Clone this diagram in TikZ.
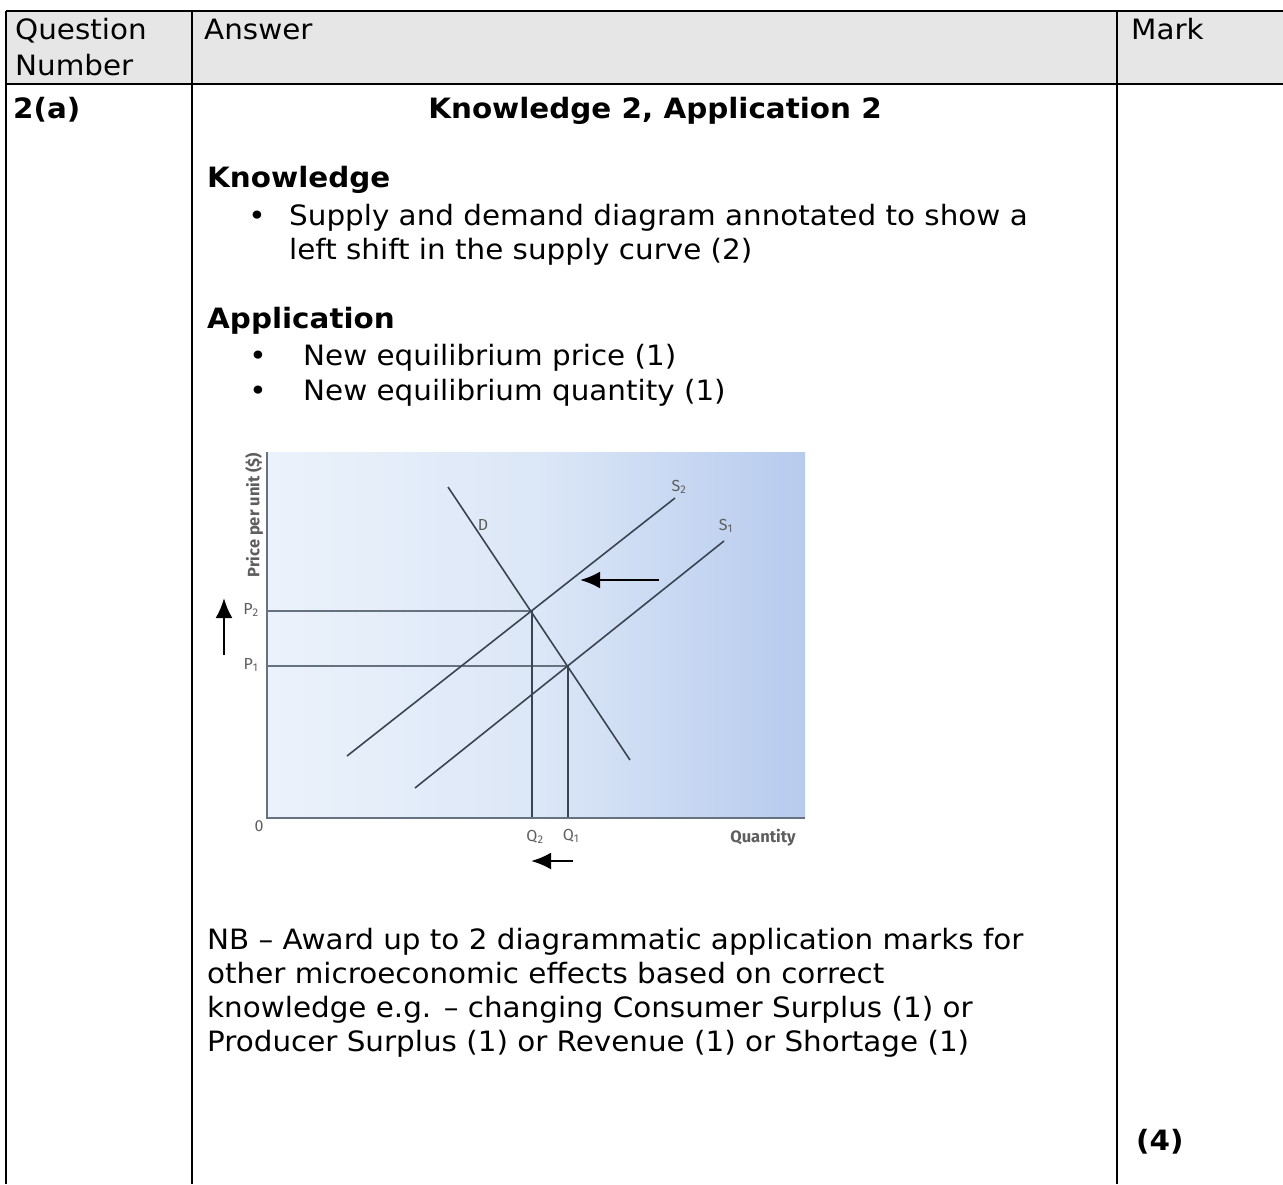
\documentclass[tikz,border=0pt]{standalone}
\usepackage{fontspec}
\setmainfont{DejaVu Sans}[FakeStretch=1.05]
\newfontfamily\chartfont{Fira Sans}
\usetikzlibrary{arrows.meta}
\definecolor{hdrgray}{HTML}{E6E6E6}
\definecolor{axisgray}{HTML}{667280}
\definecolor{curvegray}{HTML}{3A4552}
\definecolor{labelgray}{HTML}{5E5E5E}
\definecolor{panelL}{HTML}{EBF2FB}
\definecolor{panelM}{HTML}{DCE7F7}
\definecolor{panelR}{HTML}{B7CBEE}
\tikzset{
  body/.style={anchor=base west, inner sep=0pt, font=\fontsize{28}{34}\selectfont},
  bodyb/.style={anchor=base west, inner sep=0pt, font=\fontsize{28}{34}\selectfont\bfseries},
  bul/.style={anchor=base, inner sep=0pt, font=\fontsize{28}{34}\selectfont},
  rule/.style={line width=2.2pt, black},
  axis/.style={line width=2.6pt, axisgray},
  guide/.style={line width=2.6pt, axisgray},
  curve/.style={line width=1.6pt, curvegray},
  qline/.style={line width=1.8pt, curvegray},
  shiftarrow/.style={line width=2.6pt, black, -{Latex[length=20pt,width=17pt]}},
  lbl/.style={inner sep=0pt, text=labelgray, font=\chartfont\fontsize{16}{18}\selectfont},
  lblb/.style={inner sep=0pt, text=labelgray, font=\chartfont\fontsize{16.5}{18}\selectfont\bfseries},
}
\begin{document}
\begin{tikzpicture}[x=1pt,y=-1pt]
\useasboundingbox (0,0) rectangle (1283,1184);
\fill[white] (0,0) rectangle (1283,1184);
% table
\fill[hdrgray] (6,11) rectangle (1283,84);
\coordinate (TL) at (6,11);
\coordinate (TR) at (1283,11);
\coordinate (HL) at (6,84);
\coordinate (HR) at (1283,84);
\coordinate (BL) at (6,1184);
\coordinate (C1t) at (192,11);
\coordinate (C1b) at (192,1184);
\coordinate (C2t) at (1117,11);
\coordinate (C2b) at (1117,1184);
\draw[rule] (TL) -- (TR);
\draw[rule] (HL) -- (HR);
\draw[rule] (TL) -- (BL);
\draw[rule] (C1t) -- (C1b);
\draw[rule] (C2t) -- (C2b);
% header text
\node[body] (hq1) at (15,39) {Question};
\node[body] (hq2) at (15,75) {Number};
\node[body] (ha) at (204,39) {Answer};
\node[body] (hm) at (1131,39) {Mark};
% row text
\node[bodyb] (qn) at (13,118) {2(a)};
\node[bodyb, anchor=base] (title) at (655,118) {Knowledge 2, Application 2};
\node[bodyb] (kh) at (207,187) {Knowledge};
\node[bul] (kb) at (257,225) {•};
\node[body] (k1) at (289,225) {Supply and demand diagram annotated to show a};
\node[body] (k2) at (289,259) {left shift in the supply curve (2)};
\node[bodyb] (ah) at (207,328) {Application};
\node[bul] (ab1) at (258,365) {•};
\node[body] (a1) at (303,365) {New equilibrium price (1)};
\node[bul] (ab2) at (258,400) {•};
\node[body] (a2) at (303,400) {New equilibrium quantity (1)};
\node[body] (nb1) at (207,949) {NB – Award up to 2 diagrammatic application marks for};
\node[body] (nb2) at (207,983) {other microeconomic effects based on correct};
\node[body] (nb3) at (207,1017) {knowledge e.g. – changing Consumer Surplus (1) or};
\node[body] (nb4) at (207,1051) {Producer Surplus (1) or Revenue (1) or Shortage (1)};
\node[bodyb] (mk) at (1136,1150) {(4)};
% diagram
\shade[left color=panelL, right color=panelR, middle color=panelM] (267,452) rectangle (805,818);
\coordinate (O) at (267,818);
\coordinate (Ytop) at (267,452);
\coordinate (Xend) at (805,818);
\coordinate (E2) at (532,611);
\coordinate (E1) at (568,666);
\coordinate (P2) at (267,611);
\coordinate (P1) at (267,666);
\coordinate (Q2) at (532,818);
\coordinate (Q1) at (568,818);
\coordinate (Dtop) at (448,487);
\coordinate (Dbot) at (630,760);
\coordinate (S2top) at (675,498);
\coordinate (S2bot) at (347,756);
\coordinate (S1top) at (724,541);
\coordinate (S1bot) at (415,788);
\draw[guide] (P2) -- (E2);
\draw[guide] (P1) -- (E1);
\draw[qline] (E2) -- (Q2);
\draw[qline] (E1) -- (Q1);
\draw[curve] (Dtop) -- (Dbot);
\draw[curve] (S2bot) -- (S2top);
\draw[curve] (S1bot) -- (S1top);
\draw[axis] (Ytop) -- (O) -- (Xend);
% shift arrows
\coordinate (sa1) at (659,580);
\coordinate (sa2) at (580,580);
\draw[shiftarrow] (sa1) -- (sa2);
\coordinate (pa1) at (224,655);
\coordinate (pa2) at (224,598);
\draw[shiftarrow] (pa1) -- (pa2);
\coordinate (qa1) at (573,861);
\coordinate (qa2) at (531,861);
\draw[shiftarrow] (qa1) -- (qa2);
% labels
\node[lblb, rotate=90] (plabel) at (254,515) {Price per unit (\$)};
\node[lblb] (xlabel) at (763,838) {Quantity};
\node[lbl] (zero) at (259,826) {0};
\node[lbl] (p2l) at (251,610) {P\textsubscript{2}};
\node[lbl] (p1l) at (251,665) {P\textsubscript{1}};
\node[lbl] (q2l) at (535,837) {Q\textsubscript{2}};
\node[lbl] (q1l) at (571,836) {Q\textsubscript{1}};
\node[lbl] (dl) at (483,525) {D};
\node[lbl] (s2l) at (679,487) {S\textsubscript{2}};
\node[lbl] (s1l) at (726,526) {S\textsubscript{1}};
\end{tikzpicture}
\end{document}
